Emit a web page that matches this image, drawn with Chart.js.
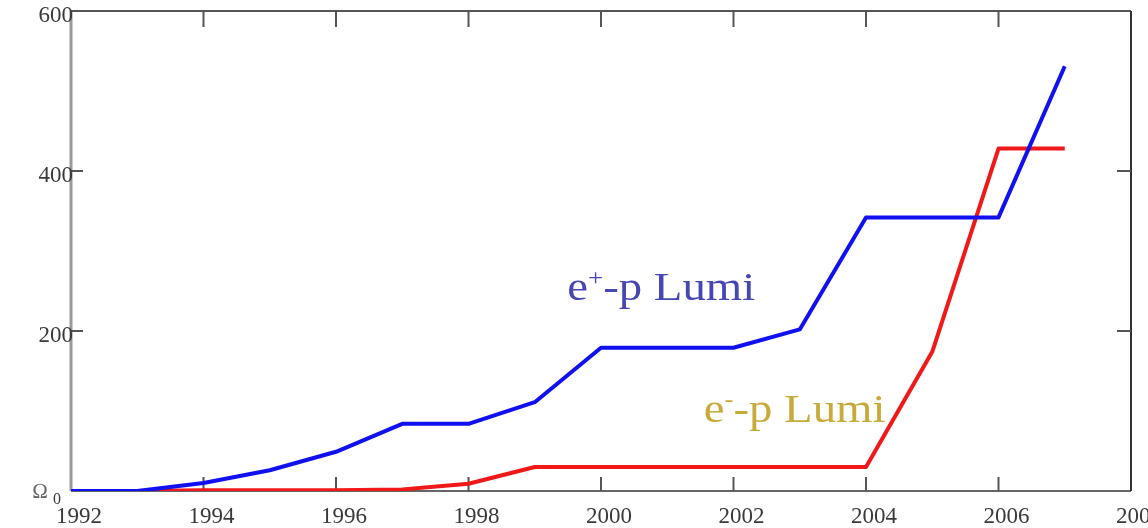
<!DOCTYPE html>
<html>
<head>
<meta charset="utf-8">
<script src="https://cdn.jsdelivr.net/npm/chart.js@4.4.0/dist/chart.umd.min.js"></script>
<style>
  html, body { margin: 0; padding: 0; background: #fff; overflow: hidden; }
  #wrap { width: 1180px; height: 528px; }
</style>
</head>
<body>
<div id="wrap"><canvas id="lumiChart" width="1180" height="528"></canvas></div>
<script>
// Data
const years = [1992, 1993, 1994, 1995, 1996, 1997, 1998, 1999, 2000, 2001, 2002, 2003, 2004, 2005, 2006, 2007];
const positronLumi = [0, 0, 10, 26, 49, 84, 84, 111, 179, 179, 179, 202, 342, 342, 342, 531];
const electronLumi = [0, 0, 1, 1, 1, 2, 9, 30, 30, 30, 30, 30, 30, 174, 428, 428];
const xTicks = [1992, 1994, 1996, 1998, 2000, 2002, 2004, 2006, 2008];
const yTicks = [0, 200, 400, 600];

const serif = '"Liberation Serif", "DejaVu Serif", serif';

// Frame with inward tick marks
const frame = {
  id: "frame",
  beforeDatasetsDraw(chart) {
    const { ctx, chartArea: a, scales } = chart;
    const xs = scales.x, ys = scales.y;
    ctx.save();
    ctx.lineCap = "butt";
    ctx.lineWidth = 2;
    ctx.strokeStyle = "#555";
    ctx.beginPath(); ctx.moveTo(a.left, a.top); ctx.lineTo(a.right, a.top); ctx.stroke();
    ctx.strokeStyle = "#666";
    ctx.beginPath(); ctx.moveTo(a.left, a.bottom); ctx.lineTo(a.right, a.bottom); ctx.stroke();
    ctx.strokeStyle = "#333";
    ctx.beginPath(); ctx.moveTo(a.right, a.top); ctx.lineTo(a.right, a.bottom); ctx.stroke();
    ctx.lineWidth = 3;
    ctx.strokeStyle = "#9a9a9a";
    ctx.beginPath(); ctx.moveTo(a.left, a.top); ctx.lineTo(a.left, a.bottom); ctx.stroke();

    ctx.lineWidth = 2;
    ctx.strokeStyle = "#555";
    xTicks.slice(1, -1).forEach(v => {
      const px = xs.getPixelForValue(v);
      ctx.beginPath(); ctx.moveTo(px, a.bottom); ctx.lineTo(px, a.bottom - 14); ctx.stroke();
      ctx.beginPath(); ctx.moveTo(px, a.top); ctx.lineTo(px, a.top + 16); ctx.stroke();
    });
    yTicks.slice(1).forEach(v => {
      const py = ys.getPixelForValue(v);
      ctx.beginPath(); ctx.moveTo(a.left, py); ctx.lineTo(a.left + 12, py); ctx.stroke();
      if (v < 600) {
        ctx.beginPath(); ctx.moveTo(a.right, py); ctx.lineTo(a.right - 14, py); ctx.stroke();
      }
    });
    ctx.restore();
  },
  afterDraw(chart) {
    const { ctx, chartArea: a, scales } = chart;
    const xs = scales.x, ys = scales.y;
    ctx.save();
    ctx.fillStyle = "#3a3a3a";
    ctx.textBaseline = "middle";

    // x tick labels
    ctx.font = "23px " + serif;
    ctx.textAlign = "center";
    xTicks.forEach(v => {
      ctx.fillText(String(v), xs.getPixelForValue(v) + 8, a.bottom + 26);
    });

    // y tick labels
    ctx.textAlign = "right";
    yTicks.forEach(v => {
      const py = ys.getPixelForValue(v);
      if (v === 0) {
        ctx.font = "16px " + serif;
        ctx.fillText("0", a.left - 10, py + 9);
      } else {
        ctx.font = "23px " + serif;
        ctx.fillText(String(v), a.left + 2, py + 5);
      }
    });

    ctx.font = "21px " + serif;
    ctx.fillStyle = "#666";
    ctx.textAlign = "center";
    ctx.fillText("\u03A9", 40, ys.getPixelForValue(0) + 1);

    // series labels
    drawLabel(ctx, xs.getPixelForValue(1999.49), ys.getPixelForValue(239), "+", "#4646b4");
    drawLabel(ctx, xs.getPixelForValue(2001.55), ys.getPixelForValue(86), "-", "#c8aa3a");
    ctx.restore();
  }
};

function drawLabel(ctx, x, y, sign, color) {
  ctx.save();
  ctx.translate(x, y);
  ctx.scale(1.17, 1);
  ctx.fillStyle = color;
  ctx.textAlign = "left";
  ctx.textBaseline = "alphabetic";
  ctx.font = "40px " + serif;
  ctx.fillText("e", 0, 0);
  let w = ctx.measureText("e").width;
  ctx.font = "23px " + serif;
  ctx.fillText(sign, w, -15);
  w += ctx.measureText(sign).width;
  ctx.font = "40px " + serif;
  ctx.fillText("-p Lumi", w, 0);
  ctx.restore();
}

const ctx = document.getElementById("lumiChart").getContext("2d");
const lumiChart = new Chart(ctx, {
  type: "line",
  data: {
    labels: years,
    datasets: [
      {
        label: "e+-p Lumi",
        data: years.map((y, i) => ({ x: y, y: positronLumi[i] })),
        borderColor: "#1010f0",
        borderWidth: 4,
        pointRadius: 0,
        tension: 0,
        borderJoinStyle: "round",
      },
      {
        label: "e--p Lumi",
        data: years.map((y, i) => ({ x: y, y: electronLumi[i] })),
        borderColor: "#f01818",
        borderWidth: 4,
        pointRadius: 0,
        tension: 0,
        borderJoinStyle: "round",
      },
    ],
  },
  options: {
    responsive: false,
    animation: false,
    layout: { padding: { left: 71, right: 49, top: 11, bottom: 37 } },
    plugins: { legend: { display: false }, tooltip: { enabled: false } },
    scales: {
      x: { type: "linear", min: 1992, max: 2008, display: false },
      y: { type: "linear", min: 0, max: 600, display: false },
    },
  },
  plugins: [frame],
});
</script>
</body>
</html>
